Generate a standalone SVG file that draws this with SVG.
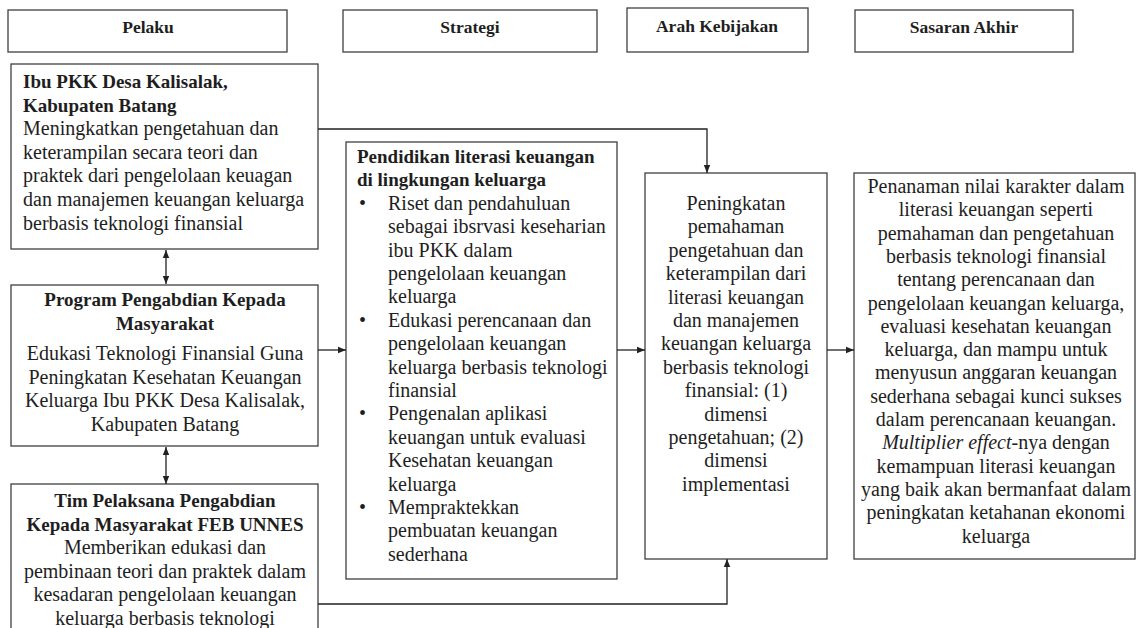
<svg xmlns="http://www.w3.org/2000/svg" width="1140" height="628" viewBox="0 0 1140 628">
<style>
.box{fill:#fff;stroke:#404040;stroke-width:1.3}
.t{font-family:"Liberation Serif","Times New Roman",serif;font-size:20px;fill:#1e1e1e}
.b{font-weight:bold;font-size:19px}
.h{font-weight:bold;font-size:17.5px}
.c{text-anchor:middle}
.i{font-style:italic}
.conn{fill:none;stroke:#222;stroke-width:1.3}
</style>
<defs>
<marker id="arr" markerUnits="userSpaceOnUse" markerWidth="8" markerHeight="8" refX="8" refY="4" orient="auto-start-reverse">
<path d="M0,0.8 L8,4 L0,7.2 z" fill="#222"/>
</marker>
</defs>
<rect width="1140" height="628" fill="#fff"/>

<g id="hdr-pelaku"><rect class="box" x="8" y="10" width="279" height="42"/><text class="t h c" x="148" y="33">Pelaku</text></g>
<g id="hdr-strategi"><rect class="box" x="343" y="10" width="254" height="42"/><text class="t h c" x="470" y="33">Strategi</text></g>
<g id="hdr-arah"><rect class="box" x="627" y="8" width="181" height="44"/><text class="t h c" x="717" y="32">Arah Kebijakan</text></g>
<g id="hdr-sasaran"><rect class="box" x="855" y="10" width="218" height="42"/><text class="t h c" x="964" y="33">Sasaran Akhir</text></g>

<g id="ibu-pkk">
<rect class="box" x="11" y="64" width="307" height="185"/>
<text class="t b" x="23" y="88">Ibu PKK Desa Kalisalak,</text>
<text class="t b" x="23" y="111.6">Kabupaten Batang</text>
<text class="t" x="23" y="135.2">Meningkatkan pengetahuan dan</text>
<text class="t" x="23" y="158.8">keterampilan secara teori dan</text>
<text class="t" x="23" y="182.4">praktek dari pengelolaan keuagan</text>
<text class="t" x="23" y="206">dan manajemen keuangan keluarga</text>
<text class="t" x="23" y="229.6">berbasis teknologi finansial</text>
</g>

<g id="program">
<rect class="box" x="11" y="285" width="307" height="161"/>
<text class="t b c" x="165" y="306">Program Pengabdian Kepada</text>
<text class="t b c" x="165" y="329.5">Masyarakat</text>
<text class="t c" x="165" y="360">Edukasi Teknologi Finansial Guna</text>
<text class="t c" x="165" y="383.5">Peningkatan Kesehatan Keuangan</text>
<text class="t c" x="165" y="407">Keluarga Ibu PKK Desa Kalisalak,</text>
<text class="t c" x="165" y="430.5">Kabupaten Batang</text>
</g>

<g id="tim">
<rect class="box" x="11" y="484" width="307" height="200"/>
<text class="t b c" x="165" y="507">Tim Pelaksana Pengabdian</text>
<text class="t b c" x="165" y="530.5">Kepada Masyarakat FEB UNNES</text>
<text class="t c" x="165" y="554">Memberikan edukasi dan</text>
<text class="t c" x="165" y="577.5">pembinaan teori dan praktek dalam</text>
<text class="t c" x="165" y="601">kesadaran pengelolaan keuangan</text>
<text class="t c" x="165" y="624.5">keluarga berbasis teknologi</text>
</g>

<g id="strategi">
<rect class="box" x="346" y="142" width="271" height="437"/>
<text class="t b" x="357" y="163">Pendidikan literasi keuangan</text>
<text class="t b" x="357" y="186.4">di lingkungan keluarga</text>
<text class="t" x="359" y="209.8">•</text><text class="t" x="388" y="209.8">Riset dan pendahuluan</text>
<text class="t" x="388" y="233.2">sebagai ibsrvasi keseharian</text>
<text class="t" x="388" y="256.6">ibu PKK dalam</text>
<text class="t" x="388" y="280">pengelolaan keuangan</text>
<text class="t" x="388" y="303.4">keluarga</text>
<text class="t" x="359" y="326.8">•</text><text class="t" x="388" y="326.8">Edukasi perencanaan dan</text>
<text class="t" x="388" y="350.2">pengelolaan keuangan</text>
<text class="t" x="388" y="373.6">keluarga berbasis teknologi</text>
<text class="t" x="388" y="397">finansial</text>
<text class="t" x="359" y="420.4">•</text><text class="t" x="388" y="420.4">Pengenalan aplikasi</text>
<text class="t" x="388" y="443.8">keuangan untuk evaluasi</text>
<text class="t" x="388" y="467.2">Kesehatan keuangan</text>
<text class="t" x="388" y="490.6">keluarga</text>
<text class="t" x="359" y="514">•</text><text class="t" x="388" y="514">Mempraktekkan</text>
<text class="t" x="388" y="537.4">pembuatan keuangan</text>
<text class="t" x="388" y="560.8">sederhana</text>
</g>

<g id="arah">
<rect class="box" x="645" y="173" width="182" height="386"/>
<text class="t c" x="736" y="210">Peningkatan</text>
<text class="t c" x="736" y="233.4">pemahaman</text>
<text class="t c" x="736" y="256.8">pengetahuan dan</text>
<text class="t c" x="736" y="280.2">keterampilan dari</text>
<text class="t c" x="736" y="303.6">literasi keuangan</text>
<text class="t c" x="736" y="327">dan manajemen</text>
<text class="t c" x="736" y="350.4">keuangan keluarga</text>
<text class="t c" x="736" y="373.8">berbasis teknologi</text>
<text class="t c" x="736" y="397.2">finansial: (1)</text>
<text class="t c" x="736" y="420.6">dimensi</text>
<text class="t c" x="736" y="444">pengetahuan; (2)</text>
<text class="t c" x="736" y="467.4">dimensi</text>
<text class="t c" x="736" y="490.8">implementasi</text>
</g>

<g id="sasaran">
<rect class="box" x="854" y="173" width="281" height="386"/>
<text class="t c" x="996" y="193">Penanaman nilai karakter dalam</text>
<text class="t c" x="996" y="216.3">literasi keuangan seperti</text>
<text class="t c" x="996" y="239.6">pemahaman dan pengetahuan</text>
<text class="t c" x="996" y="262.9">berbasis teknologi finansial</text>
<text class="t c" x="996" y="286.2">tentang perencanaan dan</text>
<text class="t c" x="996" y="309.5">pengelolaan keuangan keluarga,</text>
<text class="t c" x="996" y="332.8">evaluasi kesehatan keuangan</text>
<text class="t c" x="996" y="356.1">keluarga, dan mampu untuk</text>
<text class="t c" x="996" y="379.4">menyusun anggaran keuangan</text>
<text class="t c" x="996" y="402.7">sederhana sebagai kunci sukses</text>
<text class="t c" x="996" y="426">dalam perencanaan keuangan.</text>
<text class="t c" x="996" y="449.3"><tspan class="i">Multiplier effect</tspan>-nya dengan</text>
<text class="t c" x="996" y="472.6">kemampuan literasi keuangan</text>
<text class="t c" x="996" y="495.9">yang baik akan bermanfaat dalam</text>
<text class="t c" x="996" y="519.2">peningkatan ketahanan ekonomi</text>
<text class="t c" x="996" y="542.5">keluarga</text>
</g>

<g id="connectors">
<path class="conn" d="M166,250 V284" marker-start="url(#arr)" marker-end="url(#arr)"/>
<path class="conn" d="M166,447 V484" marker-start="url(#arr)" marker-end="url(#arr)"/>
<path class="conn" d="M318,129 H707 V173" marker-end="url(#arr)"/>
<path class="conn" d="M318,350 H346" marker-end="url(#arr)"/>
<path class="conn" d="M617,350 H645" marker-end="url(#arr)"/>
<path class="conn" d="M827,350 H854" marker-end="url(#arr)"/>
<path class="conn" d="M318,604 H727 V559" marker-end="url(#arr)"/>
</g>
</svg>
